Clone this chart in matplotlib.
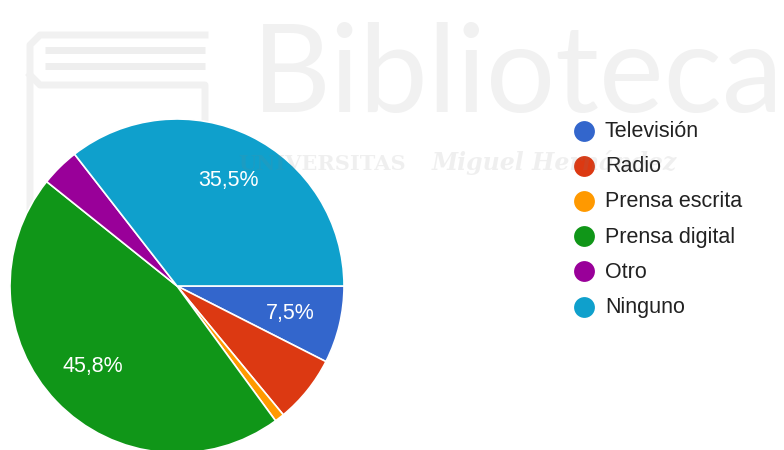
import matplotlib.pyplot as plt

plt.rcParams['font.family'] = ['Liberation Sans', 'DejaVu Sans']

# respuestas (n = 107)
categorias = ['Televisión', 'Radio', 'Prensa escrita', 'Prensa digital', 'Otro', 'Ninguno']
respuestas = [8, 7, 1, 49, 4, 38]
colores = ['#3366cc', '#dc3912', '#ff9900', '#109618', '#990099', '#0fa0cc']

W, H = 784, 450
fig = plt.figure(figsize=(W / 100, H / 100), dpi=100)
ax = fig.add_axes([0, 0, 1, 1])

# marca de agua de la biblioteca
ax.text(252, H - 112, 'Biblioteca', fontsize=88, color='#f1f1f1',
        fontfamily='Lato', zorder=0)
for yy in (50, 66):
    ax.plot([45, 205], [H - yy, H - yy], color='#eeeeee', lw=5, zorder=0,
            solid_capstyle='butt')
ax.plot([205, 40, 30, 30], [H - 35, H - 35, H - 45, H - 330], color='#f1f1f1', lw=5, zorder=0)
ax.plot([30, 40, 205, 205], [H - 75, H - 85, H - 85, H - 330], color='#f1f1f1', lw=5, zorder=0)


def etiqueta(pct):
    return f'{pct:.1f}%'.replace('.', ',') if pct >= 7 else ''


wedges, textos, pcts = ax.pie(
    respuestas, colors=colores, startangle=0, counterclock=False,
    center=(177, H - 286), radius=167, autopct=etiqueta, pctdistance=0.7,
    wedgeprops=dict(edgecolor='white', linewidth=1.2),
    textprops=dict(color='white', fontsize=15.5))

ax.text(238, H - 170, 'UNIVERSITAS', fontsize=15, fontfamily='DejaVu Serif',
        fontweight='bold', color='#808080', alpha=0.12, zorder=5)
ax.text(432, H - 170, 'Miguel Hernández', fontsize=17, fontfamily='DejaVu Serif',
        fontstyle='italic', fontweight='bold', color='#808080', alpha=0.12, zorder=5)

# leyenda
for i, (nombre, c) in enumerate(zip(categorias, colores)):
    y = H - (130.5 + i * 35.2)
    ax.plot(584, y, 'o', markersize=15, color=c, markeredgewidth=0)
    ax.text(605, y - 1, nombre, fontsize=15.5, color='#222222', va='center')

ax.set_xlim(0, W)
ax.set_ylim(0, H)
ax.set_aspect('auto')
ax.axis('off')

fig.savefig('out.png', dpi=100)
